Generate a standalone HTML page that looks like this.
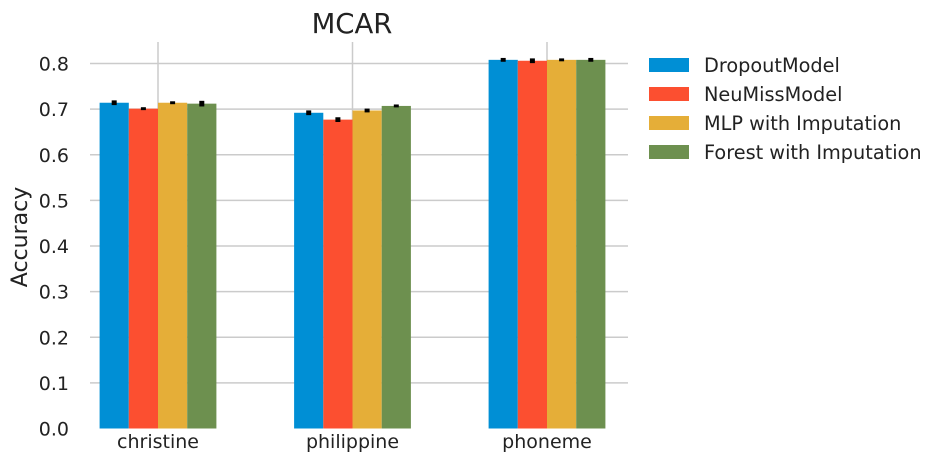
<!DOCTYPE html>
<html><head><meta charset="utf-8"><style>
body{margin:0;background:#fff;}
svg{display:block;font-family:"DejaVu Sans","Liberation Sans",sans-serif;}
</style></head><body>
<svg id="chart" width="940" height="462">
<g id="grid"></g><g id="bars"></g><g id="axes"></g><g id="legend"></g>
<text x="352" y="33" font-size="27.5" text-anchor="middle" fill="#222">MCAR</text>
<text transform="translate(27,237) rotate(-90)" font-size="22" text-anchor="middle" fill="#222">Accuracy</text>
</svg>
<script>
const categories=["christine","philippine","phoneme"];
const seriesNames=["DropoutModel","NeuMissModel","MLP with Imputation","Forest with Imputation"];
const colors=["#008fd5","#fc4f30","#e5ae38","#6d904f"];
const dropout=[0.714,0.692,0.808];
const neumiss=[0.701,0.677,0.806];
const mlp=[0.714,0.697,0.808];
const forest=[0.712,0.707,0.808];
const dropoutErr=[0.003,0.003,0.002];
const neumissErr=[0.001,0.003,0.003];
const mlpErr=[0.001,0.002,0.001];
const forestErr=[0.004,0.001,0.002];
const yTicks=[0,0.1,0.2,0.3,0.4,0.5,0.6,0.7,0.8];
const series=[dropout,neumiss,mlp,forest];
const errs=[dropoutErr,neumissErr,mlpErr,forestErr];
const NS="http://www.w3.org/2000/svg";
const x0=90,x1=628,yTop=42,yBot=428.5;
const y=v=>yBot-v/0.8*(yBot-63.5);
const cx=i=>158+i*194.5;
const bw=29.2;
function mk(t,a,p){const e=document.createElementNS(NS,t);for(const k in a)e.setAttribute(k,a[k]);p.appendChild(e);return e;}
const grid=document.getElementById('grid'),bars=document.getElementById('bars'),axes=document.getElementById('axes'),legend=document.getElementById('legend');
yTicks.forEach(t=>{
 if(t>0){const l=mk('line',{x1:x0,x2:x1,y1:y(t),y2:y(t),stroke:'#cbcbcb','stroke-width':1.5},grid);
 
 }
 const tx=mk('text',{x:69,y:y(t)+7,'font-size':19,'text-anchor':'end',fill:'#222'},axes);
 tx.textContent=t.toFixed(1);
 
 
});
categories.forEach((c,i)=>{
 const l=mk('line',{x1:cx(i),x2:cx(i),y1:yTop,y2:yBot,stroke:'#cbcbcb','stroke-width':1.5},grid);
 
 
 const tx=mk('text',{x:cx(i),y:448,'font-size':19,'text-anchor':'middle',fill:'#222'},axes);
 tx.textContent=c;
 
 
 series.forEach((s,j)=>{
  const bx=cx(i)-2*bw+j*bw;
  const r=mk('rect',{x:bx,y:y(s[i]),width:bw,height:yBot-y(s[i]),fill:colors[j]},bars);
  
  
  const e=errs[j][i];
  const el=mk('line',{x1:bx+bw/2,x2:bx+bw/2,y1:y(s[i]+e)-1,y2:y(s[i]-e)+1,stroke:'#000','stroke-width':5},bars);
  
  
 });
});
seriesNames.forEach((n,j)=>{
 const yy=65+j*29;
 const r=mk('rect',{x:649,y:yy-7,width:40,height:14,fill:colors[j]},legend);
 
 
 const tx=mk('text',{x:704,y:yy+7,'font-size':19.3,fill:'#222'},legend);
 tx.textContent=n;
 
 
});
</script>
</body></html>
